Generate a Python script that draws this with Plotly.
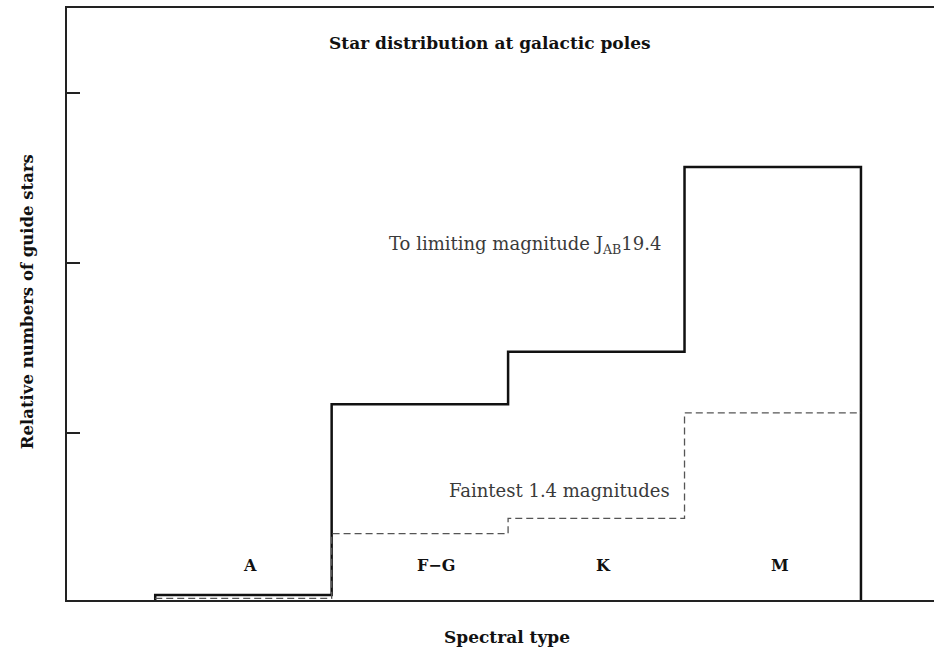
import plotly.graph_objects as go

# Spectral-type bins and relative star counts
spectral_types = ["A", "F\u2212G", "K", "M"]
bin_edges = [0, 1, 2, 3, 4]
limiting_counts = [0.05, 1.17, 1.48, 2.565]   # to limiting magnitude J_AB 19.4
faintest_counts = [0.03, 0.41, 0.50, 1.12]    # faintest 1.4 magnitudes
y_ticks = [1, 2, 3]


def step_outline(edges, values, close_left=True, close_right=True):
    xs, ys = [], []
    if close_left:
        xs.append(edges[0]); ys.append(0)
    for i, v in enumerate(values):
        xs += [edges[i], edges[i + 1]]
        ys += [v, v]
    if close_right:
        xs.append(edges[-1]); ys.append(0)
    return xs, ys


fig = go.Figure()

sx, sy = step_outline(bin_edges, limiting_counts)
fig.add_trace(go.Scatter(x=sx, y=sy, mode="lines",
                         line=dict(color="#111111", width=2.5),
                         hoverinfo="skip", showlegend=False))

dx, dy = step_outline(bin_edges, faintest_counts, close_left=False, close_right=False)
fig.add_trace(go.Scatter(x=dx, y=dy, mode="lines",
                         line=dict(color="#555555", width=1.3, dash="7px,4px"),
                         hoverinfo="skip", showlegend=False))

def bold(size):
    return dict(family="DejaVu Serif", size=size, color="#111111")

light_font = dict(family="DejaVu Serif", size=18, color="#3a3a3a")

annotations = []
centers = [(bin_edges[i] + bin_edges[i + 1]) / 2 for i in range(len(spectral_types))]
label_shift = {"F\u2212G": 16}
for c, name in zip(centers, spectral_types):
    annotations.append(dict(x=c, y=0.22, xref="x", yref="y", yanchor="middle",
                            text=f"<b>{name}</b>", showarrow=False,
                            font=bold(16), xshift=label_shift.get(name, 7)))

annotations += [
    dict(x=0.488, xref="paper", y=1, yref="paper", yanchor="middle", yshift=-35,
         text="<b>Star distribution at galactic poles</b>", showarrow=False,
         font=bold(17)),
    dict(x=0.508, xref="paper", y=0, yref="paper", yanchor="middle", yshift=-37,
         text="<b>Spectral type</b>", showarrow=False, font=bold(17)),
    dict(x=0, xref="paper", xshift=-40, xanchor="center", y=0.503, yref="paper",
         yanchor="middle",
         text="<b>Relative numbers of guide stars</b>", textangle=-90,
         showarrow=False, font=bold(16.5)),
    dict(x=3.0, xref="x", xanchor="right", xshift=-22, y=2.107, yref="y",
         yanchor="middle",
         text="To limiting magnitude J<sub>AB</sub>19.4", showarrow=False,
         font=light_font),
    dict(x=3.0, xref="x", xanchor="right", xshift=-13, y=0.661, yref="y",
         yanchor="middle",
         text="Faintest 1.4 magnitudes", showarrow=False, font=light_font),
]

fig.update_layout(
    width=934, height=649,
    margin=dict(l=67, r=0, t=8, b=49),
    paper_bgcolor="white", plot_bgcolor="white",
    annotations=annotations,
    xaxis=dict(range=[-0.5, 4.414], showgrid=False, zeroline=False,
               showticklabels=False, ticks="",
               showline=True, linecolor="#222222", linewidth=2, mirror=True),
    yaxis=dict(range=[0.02, 3.50], showgrid=False, zeroline=False,
               tickvals=y_ticks, showticklabels=False,
               ticks="inside", ticklen=13, tickwidth=2, tickcolor="#222222",
               showline=True, linecolor="#222222", linewidth=2),
)

fig.write_html("out.html")
